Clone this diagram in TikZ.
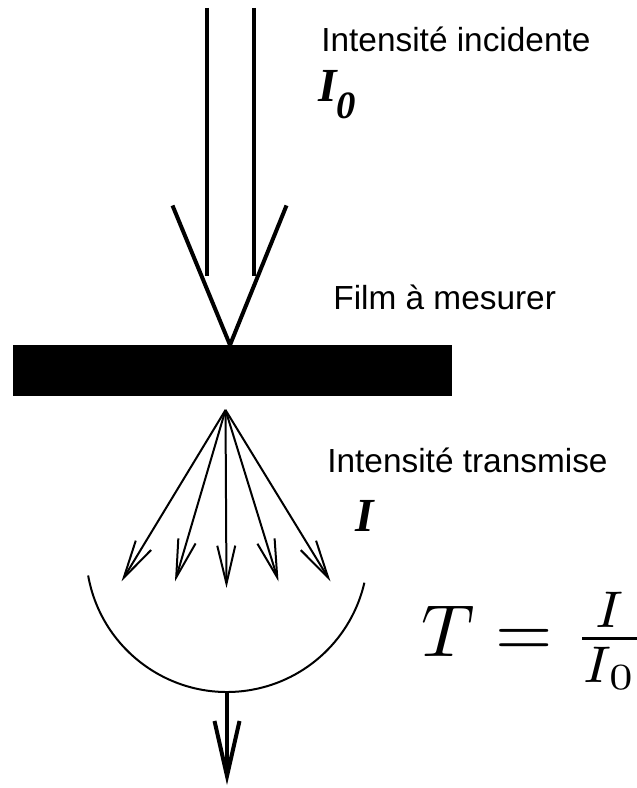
\documentclass[tikz,border=0pt]{standalone}
\usepackage{amsmath}
\usepackage{fontspec}
\usepackage{tikz}
\usetikzlibrary{arrows.meta}

\newfontfamily\labelfont{Liberation Sans}
\newfontfamily\symfont{Liberation Serif}

\tikzset{
  beam/.style={line width=0.08cm},
  ray/.style={line width=0.04cm, -{Straight Barb[length=7.6mm,width=3.6mm]}},
  outray/.style={line width=0.08cm, -{Straight Barb[length=11mm,width=5mm]}},
  lbl/.style={anchor=base west, inner sep=0pt, font=\labelfont\fontsize{19}{20}\selectfont},
  sym/.style={anchor=base west, inner sep=0pt, font=\symfont\bfseries\itshape\fontsize{27}{28}\selectfont}
}

\begin{document}
\begin{tikzpicture}
        \useasboundingbox (0,0) rectangle (12.72,15.76);

        % incident beam
        \coordinate (lt) at (4.13,15.60);
        \coordinate (lb) at (4.13,10.24);
        \coordinate (rt) at (5.08,15.60);
        \coordinate (rb) at (5.08,10.24);
        \coordinate (vl) at (3.45,11.65);
        \coordinate (vr) at (5.73,11.65);
        \coordinate (vtip) at (4.60,8.86);
        \draw[beam] (lt) -- (lb);
        \draw[beam] (rt) -- (rb);
        \draw[beam] (vl) -- (vtip) -- (vr);

        % film
        \fill (0.26,7.83) rectangle (9.04,8.86);

        % transmitted rays
        \coordinate (src) at (4.51,7.56);
        \coordinate (t1) at (2.43,4.13);
        \coordinate (t2) at (3.50,4.13);
        \coordinate (t3) at (4.53,4.00);
        \coordinate (t4) at (5.57,4.13);
        \coordinate (t5) at (6.61,4.13);
        \foreach \t in {t1,t2,t3,t4,t5}
          \draw[ray] (src) -- (\t);

        % detector
        \coordinate (det) at (4.54,4.74);
        \draw[line width=0.04cm] ([shift={(190:2.82)}]det) arc (190:347:2.82);
        \coordinate (dbot) at (4.54,1.92);
        \coordinate (dout) at (4.54,0.06);
        \draw[outray] (dbot) -- (dout);

        % labels
        \node[lbl] (inc) at (6.42,14.72) {Intensité incidente};
        \node[sym] (i0) at (6.36,13.72) {I\raisebox{-0.35em}{\fontsize{22}{22}\selectfont 0}};
        \node[lbl] (film) at (6.66,9.56) {Film à mesurer};
        \node[lbl] (trans) at (6.54,6.31) {Intensité transmise};
        \node[sym] (it) at (7.10,5.13) {I};
        \node[anchor=base west, inner sep=0pt, scale=4.2] (tf) at (8.40,2.62) {$T=\frac{I}{I_0}$};
\end{tikzpicture}
\end{document}
